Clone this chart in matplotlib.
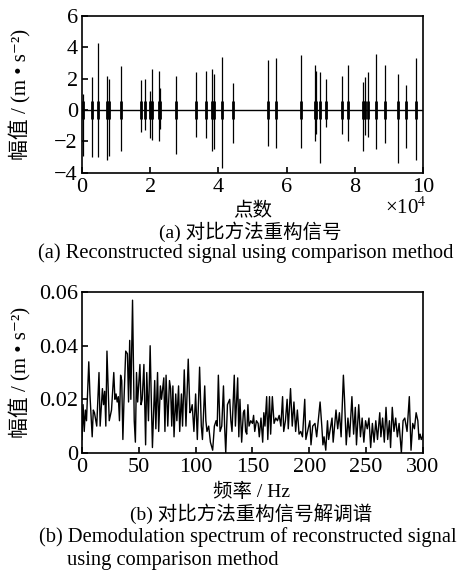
import numpy as np
import matplotlib
matplotlib.use('Agg')
import matplotlib.pyplot as plt

plt.rcParams['font.family'] = ['Liberation Serif', 'DejaVu Serif', 'Noto Sans CJK SC']
plt.rcParams['mathtext.fontset'] = 'stix'

# (a) reconstructed signal: impulse bursts, position in 1e4 points
burst_pos = [0.03, 0.29, 0.47, 0.73, 0.78, 1.15, 1.74, 1.84, 2.00, 2.05, 2.26, 2.30,
             2.76, 3.34, 3.65, 3.81, 3.86, 4.10, 4.42, 5.45, 5.68, 6.43, 6.82, 6.86,
             6.99, 7.16, 7.62, 7.80, 8.24, 8.29, 8.38, 8.63, 8.88, 9.28, 9.51, 9.80]
burst_max = [1.0, 2.1, 4.3, 2.2, 2.0, 2.8, 1.9, 2.0, 1.2, 2.6, 2.5, 1.4,
             2.2, 2.4, 2.5, 2.6, 2.3, 3.4, 1.7, 3.2, 3.3, 3.5, 2.9, 2.5,
             2.4, 2.0, 2.2, 2.9, 1.8, 2.1, 2.4, 3.6, 2.9, 2.3, 1.6, 3.3]
burst_min = [-2.9, -3.0, -3.0, -3.2, -2.9, -2.6, -1.4, -1.3, -1.8, -1.9, -2.0, -1.2,
             -2.8, -1.7, -1.8, -2.6, -2.5, -3.7, -2.1, -2.3, -2.4, -2.4, -2.0, -1.5,
             -3.4, -1.1, -1.5, -2.0, -2.6, -1.6, -1.7, -2.5, -2.1, -3.4, -2.4, -3.2]

# (b) demodulation spectrum
freq_hz = [0, 1, 2, 3, 4, 6, 7, 9, 10, 11, 13, 15, 16, 18, 19, 20, 21, 22, 24, 25, 26, 28, 29,
           30, 31, 32, 33, 34, 35, 36, 37, 38.5, 40, 41, 42, 43, 44.5, 46, 47, 48, 49, 51,
           52, 53, 54.5, 56, 57, 58.5, 60, 61, 62, 64, 65, 66.5, 67.5, 69, 70, 72, 73, 74,
           75.5, 77, 78, 79, 80, 81, 82.5, 83.5, 85, 86, 87.5, 88.5, 90, 91.5, 93.5, 95,
           96, 97, 98.5, 100, 101.5, 103.5, 105, 106, 108, 109, 110, 111.5, 113, 115,
           116.5, 118, 119, 120, 121.5, 123, 124.5, 125.5, 126.5, 128, 130, 131, 132, 134,
           135, 137, 138, 139, 140.5, 142, 143, 144, 145, 146, 147, 148.5, 150, 151, 152,
           153.5, 155, 156, 157.5, 159, 160, 161, 162.5, 163.5, 165, 166, 167.5, 169,
           170.5, 172, 173.5, 175, 176.5, 177.5, 179, 180.5, 181.5, 183.5, 185, 186.5,
           188, 189.5, 191, 192.5, 194, 196, 197, 198.5, 200.5, 201.5, 203, 205, 206.5,
           209.5, 211, 212, 213, 214.5, 216, 217, 218.5, 220, 221, 223.5, 225, 226.5, 228,
           230, 231, 232.5, 234, 235.5, 237.5, 239, 240.5, 241.5, 243.5, 245, 246.5, 248,
           249.5, 251, 252.5, 254, 255.5, 257, 258.5, 260, 262, 263, 264.5, 266, 267.5,
           269, 270.5, 271.5, 273, 274.5, 276, 277.5, 279, 281, 282.5, 284, 286, 288,
           289.5, 291, 292.5, 294, 295.5, 296.5, 297.5, 298.5, 299.5, 300]
amp = [0.005, 0.018, 0.008, 0.016, 0.012, 0.034, 0.022, 0.006, 0.016, 0.015, 0.010, 0.030,
       0.010, 0.024, 0.018, 0.023, 0.010, 0.038, 0.012, 0.014, 0.016, 0.030, 0.020, 0.022,
       0.019, 0.021, 0.012, 0.029, 0.027, 0.005, 0.020, 0.038, 0.037, 0.019, 0.042, 0.020,
       0.057, 0.012, 0.004, 0.030, 0.019, 0.033, 0.018, 0.020, 0.033, 0.003, 0.030, 0.012,
       0.040, 0.020, 0.002, 0.027, 0.009, 0.030, 0.008, 0.025, 0.020, 0.028, 0.008, 0.029,
       0.010, 0.027, 0.024, 0.010, 0.025, 0.006, 0.022, 0.012, 0.025, 0.008, 0.022, 0.010,
       0.031, 0.010, 0.035, 0.015, 0.016, 0.018, 0.008, 0.022, 0.005, 0.032, 0.010, 0.005,
       0.025, 0.012, 0.008, 0.010, 0.004, 0.001, 0.010, 0.012, 0.010, 0.029, 0.008, 0.010,
       0.025, 0.010, 0.000, 0.018, 0.020, 0.012, 0.008, 0.029, 0.010, 0.028, 0.006, 0.020,
       0.004, 0.015, 0.016, 0.008, 0.007, 0.018, 0.010, 0.012, 0.011, 0.014, 0.008, 0.012,
       0.011, 0.006, 0.013, 0.004, 0.015, 0.010, 0.021, 0.005, 0.021, 0.007, 0.021, 0.011,
       0.013, 0.012, 0.014, 0.010, 0.021, 0.008, 0.012, 0.020, 0.009, 0.024, 0.010, 0.019,
       0.008, 0.016, 0.007, 0.008, 0.006, 0.020, 0.005, 0.008, 0.012, 0.003, 0.010, 0.011,
       0.006, 0.019, 0.010, 0.003, 0.006, 0.001, 0.012, 0.005, 0.009, 0.013, 0.004, 0.016,
       0.009, 0.015, 0.006, 0.029, 0.020, 0.003, 0.013, 0.006, 0.021, 0.007, 0.017, 0.003,
       0.018, 0.006, 0.013, 0.004, 0.012, 0.009, 0.013, 0.002, 0.011, 0.004, 0.012, 0.005,
       0.015, 0.006, 0.013, 0.004, 0.017, 0.005, 0.012, 0.002, 0.017, 0.008, 0.013, 0.006,
       0.011, 0.000, 0.012, 0.013, 0.008, 0.021, 0.001, 0.011, 0.009, 0.015, 0.012, 0.005,
       0.007, 0.005, 0.006, 0.007]

ylab = '幅值 / (m • s⁻²)'
fs = 16

fig = plt.figure(figsize=(4.71, 5.74), dpi=100)
ax1 = fig.add_axes([0.174, 0.699, 0.724, 0.273])
ax2 = fig.add_axes([0.174, 0.211, 0.724, 0.280])

# top
ax1.axhline(0, color='k', lw=1.0)
ax1.vlines(burst_pos, burst_min, burst_max, color='k', lw=0.9)
ax1.vlines(burst_pos, -0.55, 0.55, color='k', lw=2.0)
ax1.set_xlim(0, 10)
ax1.set_ylim(-4, 6)
ax1.set_xticks([0, 2, 4, 6, 8, 10])
ax1.set_yticks([-4, -2, 0, 2, 4, 6])

# bottom
ax2.plot(freq_hz, amp, color='k', lw=1.0)
ax2.set_xlim(0, 300)
ax2.set_ylim(0, 0.06)
ax2.set_xticks([0, 50, 100, 150, 200, 250, 300])
ax2.set_yticks([0, 0.02, 0.04, 0.06])
ax2.set_yticklabels(['0', '0.02', '0.04', '0.06'])

for ax in (ax1, ax2):
    ax.set_ylabel(ylab, fontsize=15)
    ax.yaxis.set_label_coords(-0.147, 0.5)
    ax.tick_params(direction='in', length=4, width=1.2, labelsize=fs,
                   top=False, right=False)
    ax.tick_params(axis='x', pad=4)
    ax.tick_params(axis='y', pad=3)
    for sp in ax.spines.values():
        sp.set_linewidth(1.2)

fig.text(0.537, 0.632, '点数', ha='center', va='center', fontsize=14)
fig.text(0.862, 0.637, '×10$^{4}$', ha='center', va='center', fontsize=15)
fig.text(0.532, 0.596, '(a) 对比方法重构信号', ha='center', va='center', fontsize=14)
fig.text(0.522, 0.559, '(a) Reconstructed signal using comparison method',
         ha='center', va='center', fontsize=14.8)

fig.text(0.535, 0.143, '频率 / Hz', ha='center', va='center', fontsize=14)
fig.text(0.533, 0.105, '(b) 对比方法重构信号解调谱', ha='center', va='center', fontsize=14)
fig.text(0.526, 0.064, '(b) Demodulation spectrum of reconstructed signal',
         ha='center', va='center', fontsize=14.8)
fig.text(0.142, 0.024, 'using comparison method', ha='left', va='center', fontsize=14.8)

fig.savefig('out.png', dpi=100)
